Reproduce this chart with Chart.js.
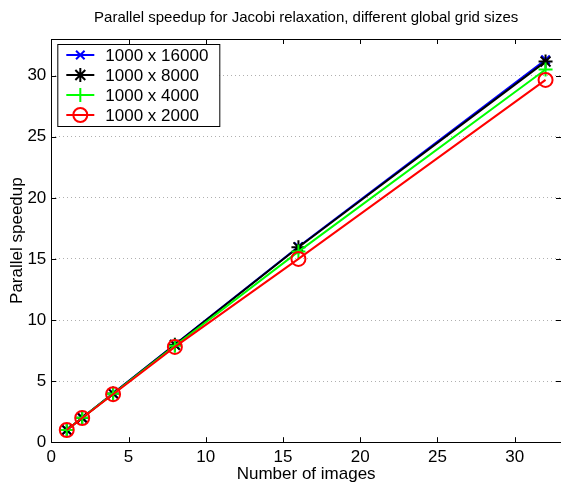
<!DOCTYPE html>
<html>
<head>
<meta charset="utf-8">
<script src="https://cdn.jsdelivr.net/npm/chart.js@4/dist/chart.umd.min.js"></script>
<style>
  html, body { margin: 0; padding: 0; background: #fff; overflow: hidden; }
  #wrap { width: 561px; height: 487px; overflow: hidden; }
</style>
</head>
<body>
<div id="wrap"><canvas id="speedup" width="570" height="487"></canvas></div>
<script>
// number of images (x)
var images = [1, 2, 4, 8, 16, 32];
// speedup per grid size
var grid16000 = [1, 2, 4, 8, 16, 31.3];
var grid8000 = [1, 2, 3.98, 7.97, 15.95, 31.15];
var grid4000 = [1, 2, 3.97, 7.9, 15.6, 30.5];
var grid2000 = [1, 1.98, 3.93, 7.8, 15.0, 29.65];
var seriesLabels = ['1000 x 16000', '1000 x 8000', '1000 x 4000', '1000 x 2000'];
var tickValues = [0, 5, 10, 15, 20, 25, 30];

var FONT = 'Liberation Sans, Arial, Helvetica, sans-serif';

function pts(ys) {
  return images.map(function (x, i) { return { x: x, y: ys[i] }; });
}

// boxed axes with inward ticks, like matlab
var boxPlugin = {
  id: 'box',
  afterDatasetsDraw: function (chart) {
    var ctx = chart.ctx, a = chart.chartArea;
    var xs = chart.scales.x, ys = chart.scales.y;
    ctx.save();
    ctx.strokeStyle = '#000';
    ctx.lineWidth = 1;
    ctx.beginPath();
    ctx.rect(Math.round(a.left) + 0.5, Math.round(a.top) + 0.5, Math.round(a.right - a.left), Math.round(a.bottom - a.top));
    ctx.stroke();
    ctx.beginPath();
    tickValues.forEach(function (v) {
      var px = Math.round(xs.getPixelForValue(v)) + 0.5;
      ctx.moveTo(px, a.bottom); ctx.lineTo(px, a.bottom - 5);
      ctx.moveTo(px, a.top); ctx.lineTo(px, a.top + 5);
      var py = Math.round(ys.getPixelForValue(v)) + 0.5;
      ctx.moveTo(a.left, py); ctx.lineTo(a.left + 5, py);
      ctx.moveTo(a.right, py); ctx.lineTo(a.right - 5, py);
    });
    ctx.stroke();
    ctx.restore();
  }
};

// legend box drawn inside the plot, upper left
var legendPlugin = {
  id: 'boxLegend',
  afterDraw: function (chart) {
    var ctx = chart.ctx, a = chart.chartArea;
    var left = a.left + 6, top = a.top + 5, w = 162, h = 82;
    ctx.save();
    ctx.fillStyle = '#fff';
    ctx.fillRect(left, top, w, h);
    ctx.strokeStyle = '#000';
    ctx.lineWidth = 1;
    ctx.strokeRect(left + 0.5, top + 0.5, w, h);
    ctx.font = '17px ' + FONT;
    ctx.textBaseline = 'middle';
    chart.data.datasets.forEach(function (ds, i) {
      var y = top + 11 + i * 20;
      ctx.strokeStyle = ds.borderColor;
      ctx.lineWidth = 2;
      ctx.beginPath();
      ctx.moveTo(left + 9, y); ctx.lineTo(left + 37, y);
      ctx.stroke();
      ctx.fillStyle = 'rgba(0,0,0,0)';
      Chart.helpers.drawPoint(ctx, {
        pointStyle: ds.pointStyle, radius: ds.pointRadius, rotation: 0, borderWidth: 2
      }, left + 23, y);
      ctx.fillStyle = '#000';
      ctx.fillText(ds.label, left + 48, y + 1);
    });
    ctx.restore();
  }
};

new Chart(document.getElementById('speedup').getContext('2d'), {
  type: 'line',
  data: {
    datasets: [
      { label: seriesLabels[0], data: pts(grid16000), borderColor: '#0000ff', pointBorderColor: '#0000ff',
        pointStyle: 'crossRot', pointRadius: 6, order: 4 },
      { label: seriesLabels[1], data: pts(grid8000), borderColor: '#000000', pointBorderColor: '#000000',
        pointStyle: 'star', pointRadius: 7, order: 3 },
      { label: seriesLabels[2], data: pts(grid4000), borderColor: '#00ff00', pointBorderColor: '#00ff00',
        pointStyle: 'cross', pointRadius: 7, order: 2 },
      { label: seriesLabels[3], data: pts(grid2000), borderColor: '#ff0000', pointBorderColor: '#ff0000',
        pointStyle: 'circle', pointRadius: 7, order: 1 }
    ]
  },
  options: {
    responsive: false,
    animation: false,
    datasets: {
      line: { borderWidth: 2, tension: 0, fill: false, pointBorderWidth: 2,
              pointBackgroundColor: 'rgba(0,0,0,0)' }
    },
    layout: { padding: { left: 6, right: 8, top: 6, bottom: 2 } },
    plugins: {
      legend: { display: false },
      tooltip: { enabled: false },
      title: {
        display: true,
        fullSize: false,
        text: 'Parallel speedup for Jacobi relaxation, different global grid sizes',
        color: '#000',
        font: { family: FONT, size: 15, weight: 'normal' },
        padding: { top: 3, bottom: 12 }
      }
    },
    scales: {
      x: {
        type: 'linear', min: 0, max: 33,
        afterBuildTicks: function (s) { s.ticks = tickValues.map(function (v) { return { value: v }; }); },
        grid: { display: false, drawTicks: false },
        border: { display: false },
        ticks: { color: '#000', font: { family: FONT, size: 17 }, padding: 5, maxRotation: 0 },
        title: { display: true, text: 'Number of images', color: '#000',
                 font: { family: FONT, size: 17 }, padding: { top: -8, bottom: 0 } }
      },
      y: {
        type: 'linear', min: 0, max: 33,
        afterBuildTicks: function (s) { s.ticks = tickValues.map(function (v) { return { value: v }; }); },
        grid: { color: '#b0b0b0', drawTicks: false, lineWidth: 1 },
        border: { display: false, dash: [1, 3] },
        ticks: { color: '#000', font: { family: FONT, size: 17 }, padding: 5 },
        title: { display: true, text: 'Parallel speedup', color: '#000',
                 font: { family: FONT, size: 17 }, padding: { top: 1, bottom: -5 } }
      }
    }
  },
  plugins: [boxPlugin, legendPlugin]
});
</script>
</body>
</html>
